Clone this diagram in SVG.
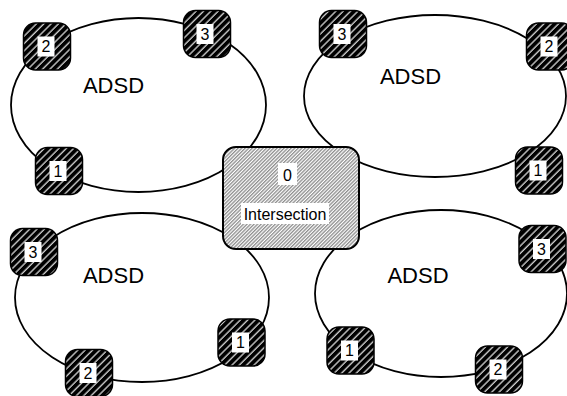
<svg xmlns="http://www.w3.org/2000/svg" width="567" height="396" viewBox="0 0 567 396">
<defs>
<pattern id="hatchDark" patternUnits="userSpaceOnUse" width="5.2" height="5.2" patternTransform="rotate(45)">
<rect x="0" y="0" width="5.2" height="5.2" fill="#000"/>
<line x1="1" y1="0" x2="1" y2="5.2" stroke="#fff" stroke-width="1.1"/>
</pattern>
<pattern id="hatchLight" patternUnits="userSpaceOnUse" width="2.5" height="2.5" patternTransform="rotate(45)">
<rect x="0" y="0" width="2.5" height="2.5" fill="#fff"/>
<line x1="0.7" y1="0" x2="0.7" y2="2.5" stroke="#777" stroke-width="1.1"/>
</pattern>
</defs>
<style>
.ring{fill:#fff;stroke:#000;stroke-width:1.8}
.ringlabel{font-family:"Liberation Sans",Arial,sans-serif;font-size:22px;fill:#000;text-anchor:middle}
.port{fill:url(#hatchDark);stroke:#000;stroke-width:1.5}
.tag{fill:#fff;stroke:none}
.num{font-family:"Liberation Sans",Arial,sans-serif;font-size:16px;fill:#000;text-anchor:middle}
.hub{fill:url(#hatchLight);stroke:#000;stroke-width:2}
</style>
<g id="connectors"></g>
<g id="ring-tl"><ellipse class="ring" cx="138.5" cy="105" rx="127.5" ry="87"/><text class="ringlabel" x="113.5" y="93">ADSD</text></g>
<g id="ring-tr"><ellipse class="ring" cx="435" cy="96" rx="131" ry="81"/><text class="ringlabel" x="410.5" y="84">ADSD</text></g>
<g id="ring-bl"><ellipse class="ring" cx="142" cy="297.5" rx="127" ry="84.5"/><text class="ringlabel" x="113.5" y="283">ADSD</text></g>
<g id="ring-br"><ellipse class="ring" cx="441" cy="293.5" rx="126" ry="83.5"/><text class="ringlabel" x="418" y="283">ADSD</text></g>
<g id="intersection">
<rect class="hub" x="223" y="147" width="136" height="102" rx="13"/>
<rect class="tag" x="278" y="163" width="19" height="22"/>
<text class="num" x="287.5" y="181">0</text>
<rect class="tag" x="241" y="203" width="88" height="21"/>
<text class="num" x="285" y="220">Intersection</text>
</g>
<g id="tl-2"><rect class="port" x="23.5" y="23" width="47" height="47" rx="12"/><rect class="tag" x="37.5" y="36.5" width="17" height="20"/><text class="num" x="46" y="52">2</text></g>
<g id="tl-3"><rect class="port" x="183.5" y="10.5" width="47" height="47" rx="12"/><rect class="tag" x="196.5" y="24" width="17" height="20"/><text class="num" x="205" y="39.5">3</text></g>
<g id="tl-1"><rect class="port" x="35.5" y="147.5" width="47" height="47" rx="12"/><rect class="tag" x="49.5" y="161" width="17" height="20"/><text class="num" x="58" y="176.5">1</text></g>
<g id="tr-3"><rect class="port" x="319.5" y="10.5" width="47" height="47" rx="12"/><rect class="tag" x="333.5" y="24" width="17" height="20"/><text class="num" x="342" y="39.5">3</text></g>
<g id="tr-2"><rect class="port" x="526.5" y="23" width="47" height="47" rx="12"/><rect class="tag" x="540.5" y="36.5" width="17" height="20"/><text class="num" x="549" y="52">2</text></g>
<g id="tr-1"><rect class="port" x="515.5" y="147" width="47" height="47" rx="12"/><rect class="tag" x="529.5" y="160.5" width="17" height="20"/><text class="num" x="538" y="176">1</text></g>
<g id="bl-3"><rect class="port" x="10.5" y="228.5" width="47" height="47" rx="12"/><rect class="tag" x="24.5" y="242" width="17" height="20"/><text class="num" x="33" y="257.5">3</text></g>
<g id="bl-2"><rect class="port" x="65.5" y="349.5" width="47" height="47" rx="12"/><rect class="tag" x="79.5" y="363" width="17" height="20"/><text class="num" x="88" y="378.5">2</text></g>
<g id="bl-1"><rect class="port" x="218" y="319" width="47" height="47" rx="12"/><rect class="tag" x="232" y="332.5" width="17" height="20"/><text class="num" x="240.5" y="348">1</text></g>
<g id="br-3"><rect class="port" x="519" y="225.5" width="47" height="47" rx="12"/><rect class="tag" x="533" y="239" width="17" height="20"/><text class="num" x="541.5" y="254.5">3</text></g>
<g id="br-2"><rect class="port" x="475.5" y="346" width="47" height="47" rx="12"/><rect class="tag" x="489.5" y="359.5" width="17" height="20"/><text class="num" x="498" y="375">2</text></g>
<g id="br-1"><rect class="port" x="327" y="327" width="47" height="47" rx="12"/><rect class="tag" x="341" y="340.5" width="17" height="20"/><text class="num" x="349.5" y="356">1</text></g>
</svg>
